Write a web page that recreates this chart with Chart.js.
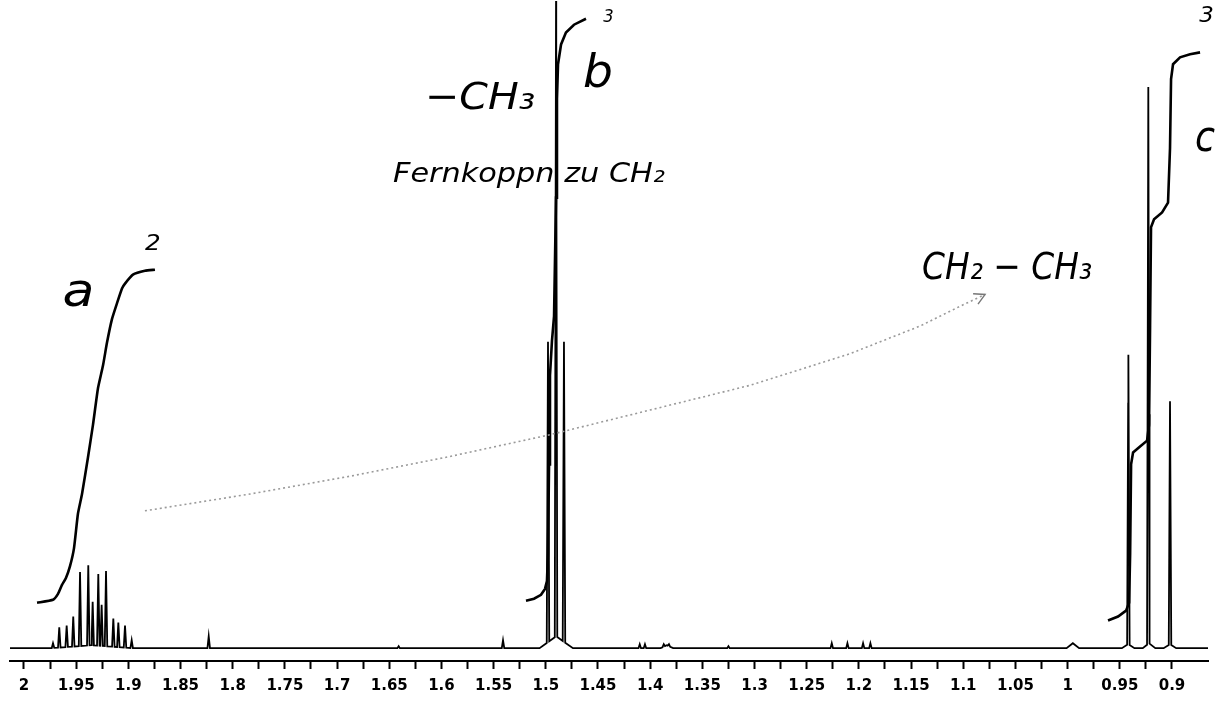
<!DOCTYPE html>
<html>
<head>
<meta charset="utf-8">
<script src="https://cdn.jsdelivr.net/npm/chart.js@4.4.1/dist/chart.umd.min.js"></script>
<style>
html,body{margin:0;padding:0;background:#fff;}
#wrap{width:1219px;height:713px;}
</style>
</head>
<body>
<div id="wrap"><canvas id="c" width="1219" height="713"></canvas></div>
<script>
// ---- axis tick labels (ppm) ----
const tickLabels = ['2','1.95','1.9','1.85','1.8','1.75','1.7','1.65','1.6','1.55','1.5','1.45','1.4','1.35','1.3','1.25','1.2','1.15','1.1','1.05','1','0.95','0.9'];

// ---- sharp lines: chemical shift (ppm) and intensity ----
const peakPpm = [1.9722,1.9662,1.9591,1.9528,1.9463,1.9384,1.9342,1.9288,1.9256,1.9214,1.9144,1.9096,1.9032,1.8968,
                 1.823,1.641,1.541,1.4979,1.4902,1.4826,1.410,1.405,1.387,1.382,1.325,1.226,1.211,1.196,1.189,
                 0.9418,0.9227,0.9019];
const peakHeight = [5,21,23,32,77,84,47,75,44,78,30,26,23,8,
                    12,2,8,310,655,310,4,4,4,4,2,5,5,5,5,
                    297,568,250];
// ---- broad features under the lines ----
const bumpPpm = [1.935,1.490,1.384,0.995,0.942,0.922,0.902];
const bumpHeight = [3,12,3,5,4,5,4];
const bumpHalfWidthPpm = [0.04,0.016,0.006,0.006,0.006,0.006,0.006];
const lineHalfWidthPpm = 0.0012;

// ---- integral curves (ppm, intensity) ----
const integralA_ppm = [1.9875,1.9722,1.9674,1.9636,1.9598,1.9559,1.9521,1.9483,1.9444,1.9387,1.9339,1.9291,1.9243,1.9205,1.9157,1.9109,1.9061,1.9032,1.8956,1.8841,1.8745];
const integralA_val = [46,49,55,64,71,83,101,136,156,193,226,263,286,309,333,349,364,369,378,382,383];
const integralB_ppm = [1.5190,1.5113,1.5046,1.5008,1.4989,1.4979,1.4969,1.4960,1.4941,1.4921,1.4902,1.4893,1.4883,1.4854,1.4807,1.4730,1.4615];
const integralB_val = [48,50,54,60,68,96,186,276,311,336,456,556,591,611,623,631,637];
const integralC_ppm = [0.9613,0.9517,0.9440,0.9411,0.9401,0.9392,0.9373,0.9306,0.9239,0.9220,0.9210,0.9201,0.9172,0.9095,0.9038,0.9019,0.9009,0.8990,0.8923,0.8827,0.8731];
const integralC_val = [28,32,38,46,96,186,198,204,210,226,326,426,434,441,451,506,576,591,598,601,603];

// ---- build spectrum trace from the line table ----
function buildSpectrum(){
  const feats = [];
  peakPpm.forEach((p,i)=>feats.push({p, h:peakHeight[i], w:lineHalfWidthPpm}));
  bumpPpm.forEach((p,i)=>feats.push({p, h:bumpHeight[i], w:bumpHalfWidthPpm[i]}));
  const keys = new Set([2.0134,0.8655]);
  feats.forEach(f=>{keys.add(+(f.p+f.w).toFixed(5));keys.add(+f.p.toFixed(5));keys.add(+(f.p-f.w).toFixed(5));});
  const xs = [...keys].sort((a,b)=>b-a);
  return xs.map(x=>{
    let y = 0;
    feats.forEach(f=>{const v = f.h*Math.max(0,1-Math.abs(x-f.p)/f.w); if(v>y) y=v;});
    return {x, y};
  });
}
const zip = (a,b)=>a.map((v,i)=>({x:v,y:b[i]}));

const majorValues = tickLabels.map(parseFloat);
const tickValues = [];
majorValues.forEach((v,i)=>{tickValues.push(v); if(i<majorValues.length-1) tickValues.push((v+majorValues[i+1])/2);});
const labelMap = {};
majorValues.forEach((v,i)=>labelMap[v.toFixed(3)] = tickLabels[i]);

// ---- handwritten annotations (in data units) ----
const notes = [
  {t:'a', l:1.9630, r:1.9324, h:358, size:46},
  {t:'2', l:1.8840, r:1.8690, h:409, size:22},
  {t:'−CH₃', l:1.6157, r:1.5102, h:556, size:38},
  {t:'Fernkoppn zu CH₂', l:1.6464, r:1.3858, h:479, size:27},
  {t:'b', l:1.4643, r:1.4356, h:580, size:46},
  {t:'3', l:1.4450, r:1.4350, h:638, size:18},
  {t:'CH₂ − CH₃', l:1.1395, r:0.9766, h:384, size:38},
  {t:'c', l:0.8780, r:0.8588, h:514, size:42},
  {t:'3', l:0.8740, r:0.8600, h:640, size:22}
];
const arrowPpm = [1.8841,1.7834,1.6876,1.5918,1.4960,1.4002,1.3043,1.2085,1.1414,1.1031,1.0791];
const arrowVal = [139,156,174,194,216,241,266,298,326,346,358];

const annot = {
  id:'annot',
  afterDatasetsDraw(chart){
    const ctx = chart.ctx, X = chart.scales.x, Y = chart.scales.y;
    ctx.save();
    ctx.strokeStyle = '#9a9a9a'; ctx.lineWidth = 1.6; ctx.setLineDash([2,3]);
    ctx.beginPath();
    arrowPpm.forEach((p,i)=>{const x=X.getPixelForValue(p), y=Y.getPixelForValue(arrowVal[i]); i?ctx.lineTo(x,y):ctx.moveTo(x,y);});
    ctx.stroke();
    ctx.setLineDash([]);
    const n = arrowPpm.length-1;
    const ex = X.getPixelForValue(arrowPpm[n]), ey = Y.getPixelForValue(arrowVal[n]);
    const px = X.getPixelForValue(arrowPpm[n-1]), py = Y.getPixelForValue(arrowVal[n-1]);
    const ang = Math.atan2(ey-py, ex-px);
    ctx.strokeStyle = '#777'; ctx.lineWidth = 1.4;
    ctx.beginPath();
    ctx.moveTo(ex-12*Math.cos(ang-0.5), ey-12*Math.sin(ang-0.5)); ctx.lineTo(ex,ey);
    ctx.lineTo(ex-12*Math.cos(ang+0.5), ey-12*Math.sin(ang+0.5));
    ctx.stroke();
    ctx.fillStyle = '#000'; ctx.textBaseline = 'middle'; ctx.textAlign = 'left';
    notes.forEach(nt=>{
      ctx.font = `italic ${nt.size}px "DejaVu Sans"`;
      const w = ctx.measureText(nt.t).width;
      const xl = X.getPixelForValue(nt.l), xr = X.getPixelForValue(nt.r);
      ctx.save();
      ctx.translate(xl, Y.getPixelForValue(nt.h));
      ctx.scale((xr-xl)/w, 1);
      ctx.fillText(nt.t, 0, 0);
      ctx.restore();
    });
    ctx.restore();
  }
};

new Chart(document.getElementById('c'), {
  type:'scatter',
  data:{datasets:[
    {label:'spectrum', data:buildSpectrum(), showLine:true, borderColor:'#000', borderWidth:1.8, pointRadius:0, tension:0},
    {label:'integral a', data:zip(integralA_ppm,integralA_val), showLine:true, borderColor:'#000', borderWidth:2.6, pointRadius:0, tension:0.15},
    {label:'integral b', data:zip(integralB_ppm,integralB_val), showLine:true, borderColor:'#000', borderWidth:2.6, pointRadius:0, tension:0},
    {label:'integral c', data:zip(integralC_ppm,integralC_val), showLine:true, borderColor:'#000', borderWidth:2.6, pointRadius:0, tension:0}
  ]},
  options:{
    responsive:false, animation:false,
    layout:{padding:{left:10,right:11,top:0,bottom:10}},
    plugins:{legend:{display:false}, tooltip:{enabled:false}},
    scales:{
      x:{type:'linear', reverse:true, min:0.8655, max:2.0134,
         afterBuildTicks:(s)=>{s.ticks = tickValues.map(v=>({value:v}));},
         grid:{drawOnChartArea:false, drawTicks:true, tickLength:8, tickColor:'#000', tickWidth:2},
         border:{color:'#000', width:2},
         ticks:{autoSkip:false, maxRotation:0, minRotation:0, padding:8, color:'#000',
                font:{family:'"DejaVu Sans"', weight:'bold', size:15},
                callback:(v)=>labelMap[(+v).toFixed(3)] || ''}},
      y:{display:false, min:-13, max:656}
    }
  },
  plugins:[annot]
});
</script>
</body>
</html>
